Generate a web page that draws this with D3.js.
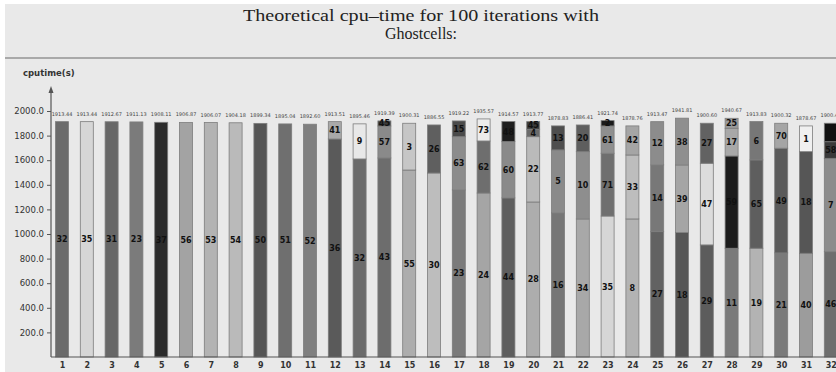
<!DOCTYPE html>
<html>
<head>
<meta charset="utf-8">
<script src="https://cdn.jsdelivr.net/npm/d3@7/dist/d3.min.js"></script>
<style>
  html, body { margin: 0; padding: 0; background: #fff; }
  svg { display: block; }
</style>
</head>
<body>
<svg id="chart"></svg>
<script>
// run numbers along the x axis
const runs = [1, 2, 3, 4, 5, 6, 7, 8, 9, 10, 11, 12, 13, 14, 15, 16,
  17, 18, 19, 20, 21, 22, 23, 24, 25, 26, 27, 28, 29, 30, 31, 32];

// y axis tick values (0 is not labelled)
const yTicks = [200, 400, 600, 800, 1000, 1200, 1400, 1600, 1800, 2000];

// processor id of every stacked piece, bottom to top
const procIds = [
  [32], [35], [31], [23], [37], [56], [53], [54], [50], [51], [52],
  [36, 41], [32, 9], [43, 57, 45], [55, 3], [30, 26], [23, 63, 15],
  [24, 62, 73], [44, 60, 48], [28, 22, 4, 45], [16, 5, 13], [34, 10, 20],
  [35, 71, 61, 2], [8, 33, 42], [27, 14, 12], [18, 39, 38], [29, 47, 27],
  [11, 59, 17, 25], [19, 65, 6], [21, 49, 70], [40, 18, 1], [46, 7, 58, 64]
];

// cpu time of every stacked piece (s), bottom to top
const cpuTimes = [
  [1913.44], [1913.44], [1912.67], [1911.13], [1908.11], [1906.87],
  [1906.07], [1904.18], [1899.34], [1895.04], [1892.60],
  [1772.31, 141.20], [1610.05, 285.41], [1618.02, 260.07, 41.30],
  [1520.11, 380.20], [1496.03, 390.52], [1358.14, 433.08, 128.00],
  [1333.20, 423.10, 179.27], [1293.40, 458.16, 163.01],
  [1260.22, 531.05, 60.40, 62.10], [1171.30, 512.44, 195.09],
  [1122.08, 547.31, 217.02], [1146.20, 510.33, 222.15, 43.06],
  [1122.41, 520.10, 236.25], [1019.06, 542.30, 352.11],
  [1011.27, 550.04, 380.50], [911.35, 664.08, 325.17],
  [884.12, 750.20, 225.33, 81.02], [884.30, 718.01, 311.52],
  [846.07, 851.21, 203.04], [843.19, 826.40, 209.08],
  [856.10, 759.06, 135.21, 150.09]
];

// grey shade per processor
const procShade = {
  1: '#f0f0f0', 2: '#1a1a1a', 3: '#c6c6c6', 4: '#6a6a6a', 5: '#8a8a8a',
  6: '#777777', 7: '#8c8c8c', 8: '#b3b3b3', 9: '#e8e8e8', 10: '#8e8e8e',
  11: '#7a7a7a', 12: '#8c8c8c', 13: '#4e4e4e', 14: '#787878', 15: '#4a4a4a',
  16: '#767676', 17: '#a8a8a8', 18: '#565656', 19: '#b3b3b3', 20: '#5e5e5e',
  21: '#7a7a7a', 22: '#bababa', 23: '#7b7b7b', 24: '#a5a5a5', 25: '#9a9a9a',
  26: '#5f5f5f', 27: '#626262', 28: '#adadad', 29: '#5c5c5c', 30: '#bdbdbd',
  31: '#676767', 32: '#6b6b6b', 33: '#bdbdbd', 34: '#a8a8a8', 35: '#d6d6d6',
  36: '#5a5a5a', 37: '#2b2b2b', 38: '#8f8f8f', 39: '#a5a5a5', 40: '#9c9c9c',
  41: '#a9a9a9', 42: '#a5a5a5', 43: '#6d6d6d', 44: '#5e5e5e', 45: '#3c3c3c',
  46: '#6e6e6e', 47: '#dcdcdc', 48: '#1e1e1e', 49: '#5a5a5a', 50: '#555555',
  51: '#6f6f6f', 52: '#7f7f7f', 53: '#b3b3b3', 54: '#bababa', 55: '#adadad',
  56: '#a3a3a3', 57: '#8a8a8a', 58: '#3a3a3a', 59: '#1c1c1c', 60: '#8a8a8a',
  61: '#8f8f8f', 62: '#6e6e6e', 63: '#8c8c8c', 64: '#111111', 65: '#5e5e5e',
  70: '#a5a5a5', 71: '#6f6f6f', 73: '#ececec'
};

const width = 836;
const height = 372;
const axisX = 51;
const baseY = 357;
const barW = 13;
const axisFont = '"DejaVu Sans", sans-serif';
const titleFont = '"Liberation Serif", "DejaVu Serif", serif';

const svg = d3.select('#chart')
  .attr('width', width)
  .attr('height', height);

// panel background + title strip
svg.append('rect')
  .attr('x', 5).attr('y', 4)
  .attr('width', width - 5).attr('height', height - 4)
  .attr('fill', '#e9e9e9');
svg.append('line')
  .attr('x1', 5).attr('x2', width)
  .attr('y1', 58).attr('y2', 58)
  .attr('stroke', '#a9a9a9').attr('stroke-width', 2);

// title, two lines
svg.append('text')
  .attr('text-anchor', 'middle')
  .attr('font-family', titleFont)
  .attr('font-size', 16)
  .attr('fill', '#222')
  .attr('x', 421).attr('y', 21)
  .attr('textLength', 356).attr('lengthAdjust', 'spacingAndGlyphs')
  .text('Theoretical cpu\u2013time for 100 iterations with');
svg.append('text')
  .attr('text-anchor', 'middle')
  .attr('font-family', titleFont)
  .attr('font-size', 16)
  .attr('fill', '#222')
  .attr('x', 421).attr('y', 39)
  .text('Ghostcells:');

// scales
const x = d3.scalePoint()
  .domain(runs)
  .range([62, 62 + 31 * 24.8]);

const y = d3.scaleLinear()
  .domain([0, 2000])
  .range([baseY, 111]);

// stacked pieces
const bars = runs.map((r, i) => {
  let acc = 0;
  const pieces = cpuTimes[i].map((v, j) => {
    const p = { run: r, id: procIds[i][j], y0: acc, y1: acc + v };
    acc += v;
    return p;
  });
  return { run: r, total: acc, pieces };
});

const barG = svg.append('g')
  .selectAll('g')
  .data(bars)
  .enter().append('g');

barG.selectAll('rect')
  .data(d => d.pieces)
  .enter().append('rect')
  .attr('x', d => x(d.run) - barW / 2)
  .attr('width', barW)
  .attr('y', d => y(d.y1))
  .attr('height', d => y(d.y0) - y(d.y1))
  .attr('fill', d => procShade[d.id])
  .attr('stroke', '#7d7d7d')
  .attr('stroke-width', 0.8);

barG.selectAll('text.seg')
  .data(d => d.pieces)
  .enter().append('text')
  .attr('class', 'seg')
  .attr('x', d => x(d.run))
  .attr('y', d => (y(d.y0) + y(d.y1)) / 2 + 3)
  .attr('text-anchor', 'middle')
  .attr('font-family', axisFont)
  .attr('font-weight', 'bold')
  .attr('font-size', 8)
  .attr('fill', '#111')
  .text(d => d.id);

// total on top of each bar
barG.append('text')
  .attr('x', d => x(d.run))
  .attr('y', d => y(d.total) - 6)
  .attr('text-anchor', 'middle')
  .attr('font-family', axisFont)
  .attr('font-size', 5)
  .attr('fill', '#444')
  .text(d => d.total.toFixed(2));

// y axis
const yAxisG = svg.append('g')
  .attr('transform', `translate(${axisX},0)`)
  .call(d3.axisLeft(y).tickValues(yTicks).tickFormat(d3.format('.1f')).tickSize(4).tickPadding(3));
yAxisG.select('.domain').remove();
yAxisG.selectAll('.tick line').attr('stroke', '#555');
yAxisG.selectAll('.tick text')
  .attr('font-family', axisFont)
  .attr('font-size', 8.5)
  .attr('fill', '#333');

svg.append('line')
  .attr('x1', axisX).attr('x2', axisX)
  .attr('y1', 90).attr('y2', baseY)
  .attr('stroke', '#555').attr('stroke-width', 1.2);
svg.append('path')
  .attr('d', `M${axisX},86 L${axisX - 2.5},93 L${axisX + 2.5},93 Z`)
  .attr('fill', '#555');

svg.append('text')
  .attr('x', 23).attr('y', 76)
  .attr('font-family', axisFont)
  .attr('font-weight', 'bold')
  .attr('font-size', 8.5)
  .attr('fill', '#333')
  .text('cputime(s)');

// x axis
const xAxisG = svg.append('g')
  .attr('transform', `translate(0,${baseY})`)
  .call(d3.axisBottom(x).tickSize(0).tickPadding(5));
xAxisG.select('.domain').remove();
xAxisG.selectAll('.tick text')
  .attr('font-family', axisFont)
  .attr('font-weight', 'bold')
  .attr('font-size', 8)
  .attr('fill', '#333');

svg.append('line')
  .attr('x1', axisX).attr('x2', width)
  .attr('y1', baseY).attr('y2', baseY)
  .attr('stroke', '#555').attr('stroke-width', 1.2);
</script>
</body>
</html>
